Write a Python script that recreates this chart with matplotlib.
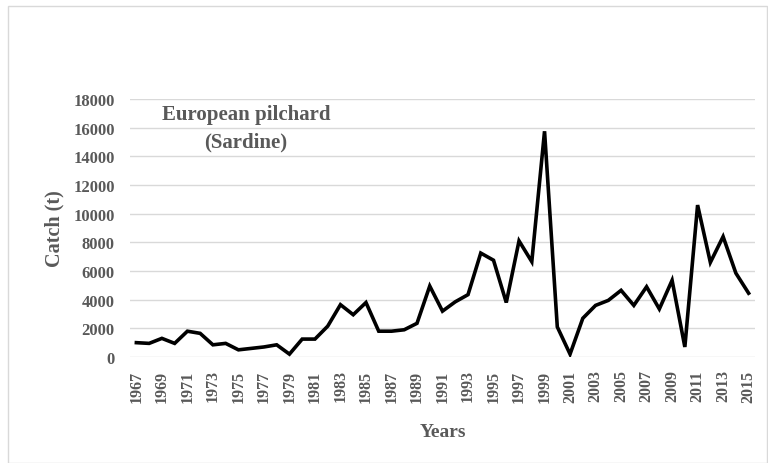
import matplotlib.pyplot as plt
from matplotlib.patches import Rectangle

years = list(range(1967, 2016))
catch = [1000, 950, 1300, 950, 1800, 1650, 850, 950, 500, 600, 700, 850, 200,
         1250, 1250, 2150, 3650, 2950, 3800, 1800, 1800, 1900, 2350, 4950,
         3200, 3850, 4350, 7250, 6750, 3800, 8100, 6650, 15750, 2100, 200,
         2700, 3600, 3950, 4650, 3600, 4900, 3350, 5350, 700, 10600, 6600,
         8400, 5850, 4450]
tick_years = years[::2]
grey = '#595959'

plt.rcParams['font.family'] = ['Liberation Serif', 'DejaVu Serif']

fig = plt.figure(figsize=(7.68, 4.64), dpi=100)
fig.patches.append(Rectangle((8 / 768, 0), 759 / 768, 457 / 464, transform=fig.transFigure,
                             fill=False, edgecolor='#d9d9d9', linewidth=1))
ax = fig.add_axes([130 / 768, 106 / 464, 625 / 768, 258 / 464])

ax.plot(years, catch, color='black', linewidth=2.6, solid_joinstyle='miter')
ax.set_xlim(1966.5, 2015.5)
ax.set_ylim(0, 18000)
ax.set_yticks(range(0, 18001, 2000))
ax.set_xticks(tick_years)
ax.set_xticklabels([str(y) for y in tick_years], rotation=90, fontsize=11.5,
                   fontweight='bold', color=grey)
for lab in ax.get_yticklabels():
    lab.set_fontsize(12)
    lab.set_fontweight('bold')
    lab.set_color(grey)
ax.grid(axis='y', color='#d9d9d9', linewidth=1)
ax.set_axisbelow(True)
for s in ax.spines.values():
    s.set_visible(False)
ax.tick_params(axis='y', length=0, pad=11)
ax.tick_params(axis='x', length=0, pad=9)

ax.set_xlabel('Years', fontsize=14, fontweight='bold', color=grey, labelpad=15)
ax.set_ylabel('Catch (t)', fontsize=14.5, fontweight='bold', color=grey, labelpad=6)
ax.text(1975.6, 16000, 'European pilchard\n(Sardine)', ha='center', va='center',
        fontsize=15, fontweight='bold', color=grey, linespacing=1.45)

fig.savefig('out.png', dpi=100)
